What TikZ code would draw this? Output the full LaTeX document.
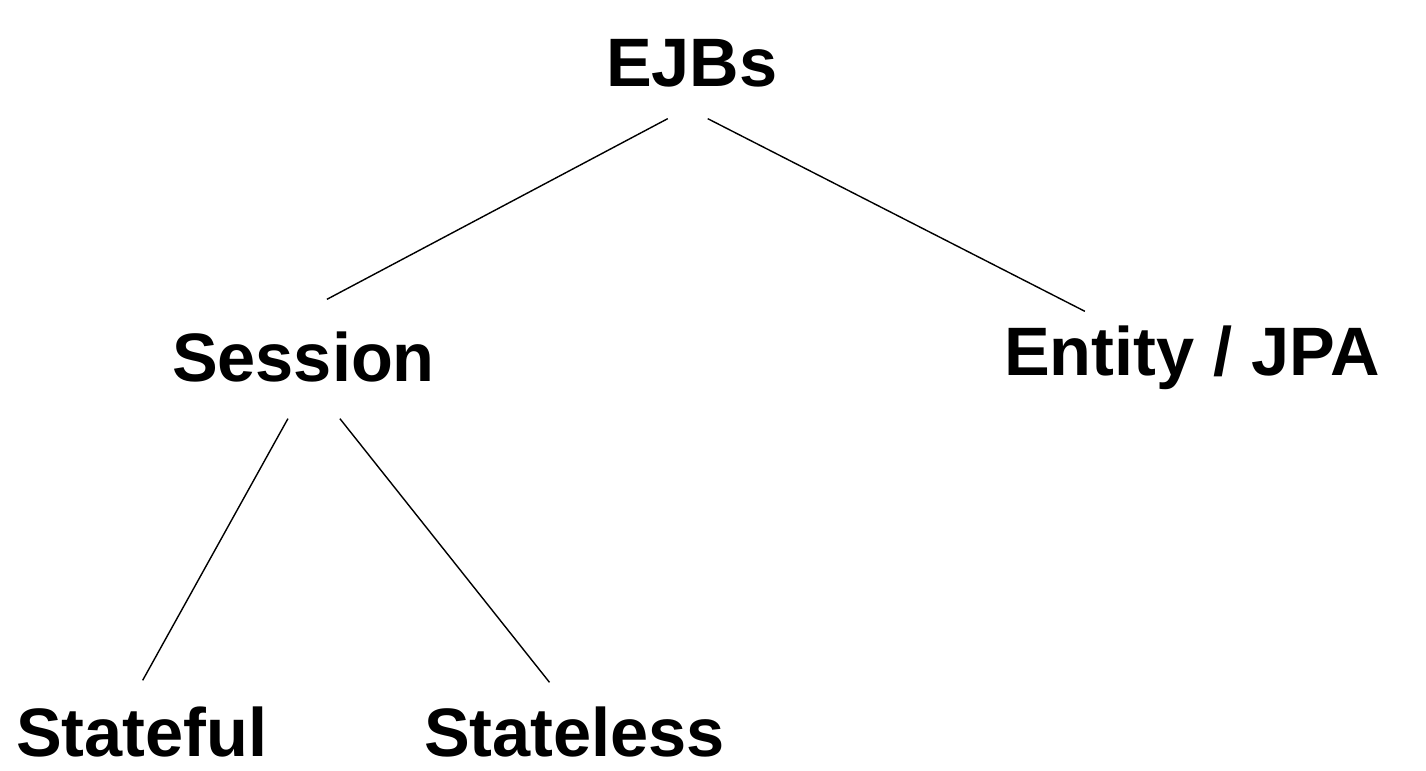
\documentclass[tikz,border=0pt]{standalone}
\usepackage{fontspec}
\setmainfont{Liberation Sans}
\usepackage{tikz}
\usetikzlibrary{positioning}

\begin{document}
\begin{tikzpicture}
        \useasboundingbox (0,0) rectangle (28.52,15.42);
        \begin{scope}[every node/.style={anchor=base west,inner sep=0pt,outer sep=0pt,font=\fontsize{39}{44}\selectfont\bfseries}]
          \node (ejb) at (12.12,13.68) {EJBs};
          \node (session) at (3.44,7.78) {Session};
          \node (entity) at (20.08,7.90) {Entity / JPA};
          \node (stateful) at (0.32,0.28) {Stateful};
          \node (stateless) at (8.48,0.28) {Stateless};
        \end{scope}
        \begin{scope}[every edge/.style={draw=black,line width=0.8pt}]
          \path ([shift={(-0.48,-0.62)}]ejb.south) edge ([shift={(0.47,0.66)}]session.north);
          \path ([shift={(0.32,-0.62)}]ejb.south) edge ([shift={(-2.14,0.30)}]entity.north);
          \path ([shift={(-0.31,-0.72)}]session.south) edge ([shift={(0.02,0.54)}]stateful.north);
          \path ([shift={(0.73,-0.72)}]session.south) edge ([shift={(-0.50,0.50)}]stateless.north);
        \end{scope}
\end{tikzpicture}
\end{document}
